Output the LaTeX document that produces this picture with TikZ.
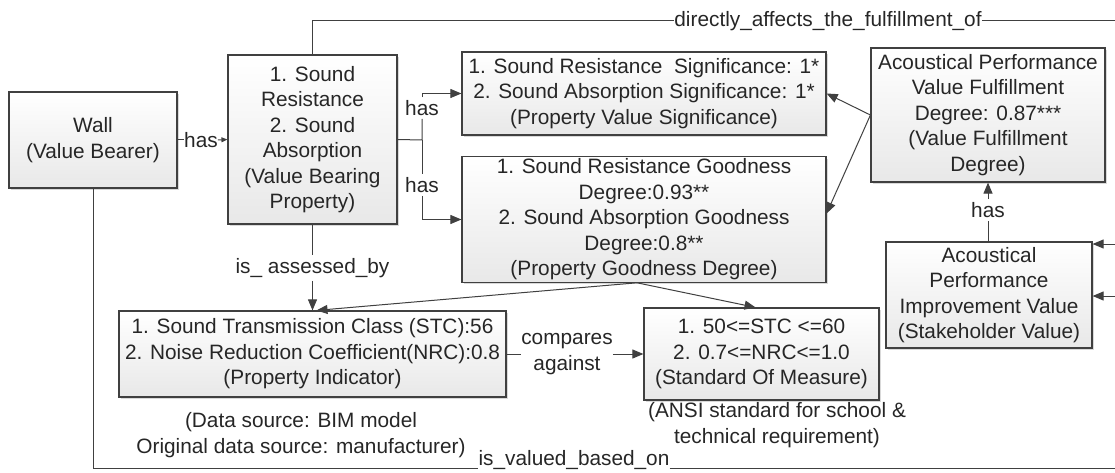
\documentclass[tikz,border=0pt]{standalone}
\usepackage{fontspec}
\setmainfont{Liberation Sans}
\usetikzlibrary{arrows.meta,shadows,calc}
\definecolor{ln}{HTML}{404040}
\definecolor{tx}{HTML}{262626}
\begin{document}
\begin{tikzpicture}[x=1pt,y=-1pt,
  font=\fontsize{20.8}{25.5}\selectfont, text=tx,
  box/.style={draw=ln, line width=1.2pt, top color=white, bottom color=black!9,
    drop shadow={shadow xshift=2pt,shadow yshift=-2pt,fill=black,opacity=0.15},
    align=center, inner sep=2pt},
  lbl/.style={inner sep=0pt, align=center},
  con/.style={draw=ln, line width=1pt},
  arr/.style={con, -{Triangle[length=11pt,width=9pt]}},
  smallarr/.style={con, -{Triangle[length=6pt,width=5pt]}},
]
\useasboundingbox (0,0) rectangle (1115,473);

% boxes
\node[box, minimum width=168pt, minimum height=96pt] (wall) at (93,140) {Wall\\(Value Bearer)};
\node[box, minimum width=169pt, minimum height=169pt] (vbp) at (312.5,139.5) {1. Sound\\Resistance\\2. Sound\\Absorption\\(Value Bearing\\Property)};
\node[box, minimum width=364pt, minimum height=83pt] (sig) at (644,93.5) {1. Sound Resistance~ Significance: 1*\\2. Sound Absorption Significance: 1*\\(Property Value Significance)};
\node[box, minimum width=364pt, minimum height=125pt] (good) at (644,219.5) {1. Sound Resistance Goodness\\Degree:0.93**\\2. Sound Absorption Goodness\\Degree:0.8**\\(Property Goodness Degree)};
\node[box, minimum width=234pt, minimum height=134pt] (ful) at (988,115) {Acoustical Performance\\Value Fulfillment\\Degree: 0.87***\\(Value Fulfillment\\Degree)};
\node[box, minimum width=206pt, minimum height=106pt] (stake) at (989,295) {Acoustical\\Performance\\Improvement Value\\(Stakeholder Value)};
\node[box, minimum width=387pt, minimum height=86pt] (ind) at (312.5,354) {1. Sound Transmission Class (STC):56\\2. Noise Reduction Coefficient(NRC):0.8\\(Property Indicator)};
\node[box, minimum width=235pt, minimum height=92pt] (std) at (761.5,354) {1. 50<=STC <=60\\2. 0.7<=NRC<=1.0\\(Standard Of Measure)};

% notes
\node[lbl] (note1) at (301,435) {(Data source: BIM model\\Original data source: manufacturer)};
\node[lbl] (note2) at (777,425) {(ANSI standard for school \&\\technical requirement)};

% labels
\node[lbl] (has0) at (201,140) {has};
\node[lbl, inner ysep=3pt] (has1) at (422,108) {has};
\node[lbl, inner ysep=3pt] (has2) at (422,185) {has};
\node[lbl, inner ysep=3pt] (has3) at (988,210) {has};
\node[lbl, inner ysep=3pt] (assess) at (312.5,268) {is\_ assessed\_by};
\node[lbl] (cmp) at (567,354) {compares\\against};
\node[lbl] (topl) at (828,20.7) {directly\_affects\_the\_fulfillment\_of};
\node[lbl, text depth=5pt, text height=0pt] (botl) at (574,468) {is\_valued\_based\_on};

% helper coordinates
\coordinate (tl) at (312.5,20.7);
\coordinate (tr) at (1115,20.7);
\coordinate (bl) at (93,468);
\coordinate (br) at (1115,468);
\coordinate (jb) at (422,140);
\coordinate (r1) at (1115,244);
\coordinate (r2) at (1115,296);

% connectors
\draw[con] (vbp.north) -- (tl) -- (topl.west);
\draw[con] (topl.east) -- (tr);
\draw[con] (wall.south) -- (bl) -- (botl.west);
\draw[con] (botl.east) -- (br);
\draw[con] (wall.east) -- (has0.west);
\draw[smallarr] (has0.east) -- (vbp.west);
\draw[con] (vbp.east) -- (jb) -- (has1.south);
\draw[arr] (has1.north) |- (sig.west);
\draw[con] (jb) -- (has2.north);
\draw[arr] (has2.south) |- (good.west);
\draw[con] (vbp.south) -- (assess.north);
\draw[arr] (assess.south) -- (ind.north);
\draw[arr] ($(good.south)+(-7,0)$) -- ($(ind.north)+(4,0)$);
\draw[arr] ($(good.south)+(-7,0)$) -- ($(std.north)+(-6,0)$);
\draw[arr] (ful.west) -- (sig.east);
\draw[arr] (ful.west) -- ($(good.east)+(0,-6)$);
\draw[con] (stake.north -| has3) -- (has3.south);
\draw[arr] (has3.north) -- (ful.south -| has3);
\draw[arr] (r1) -- (r1 -| stake.east);
\draw[arr] (r2) -- (r2 -| stake.east);
\draw[con] (ind.east) -- (cmp.west);
\draw[arr] (cmp.east) -- (std.west);
\end{tikzpicture}
\end{document}
